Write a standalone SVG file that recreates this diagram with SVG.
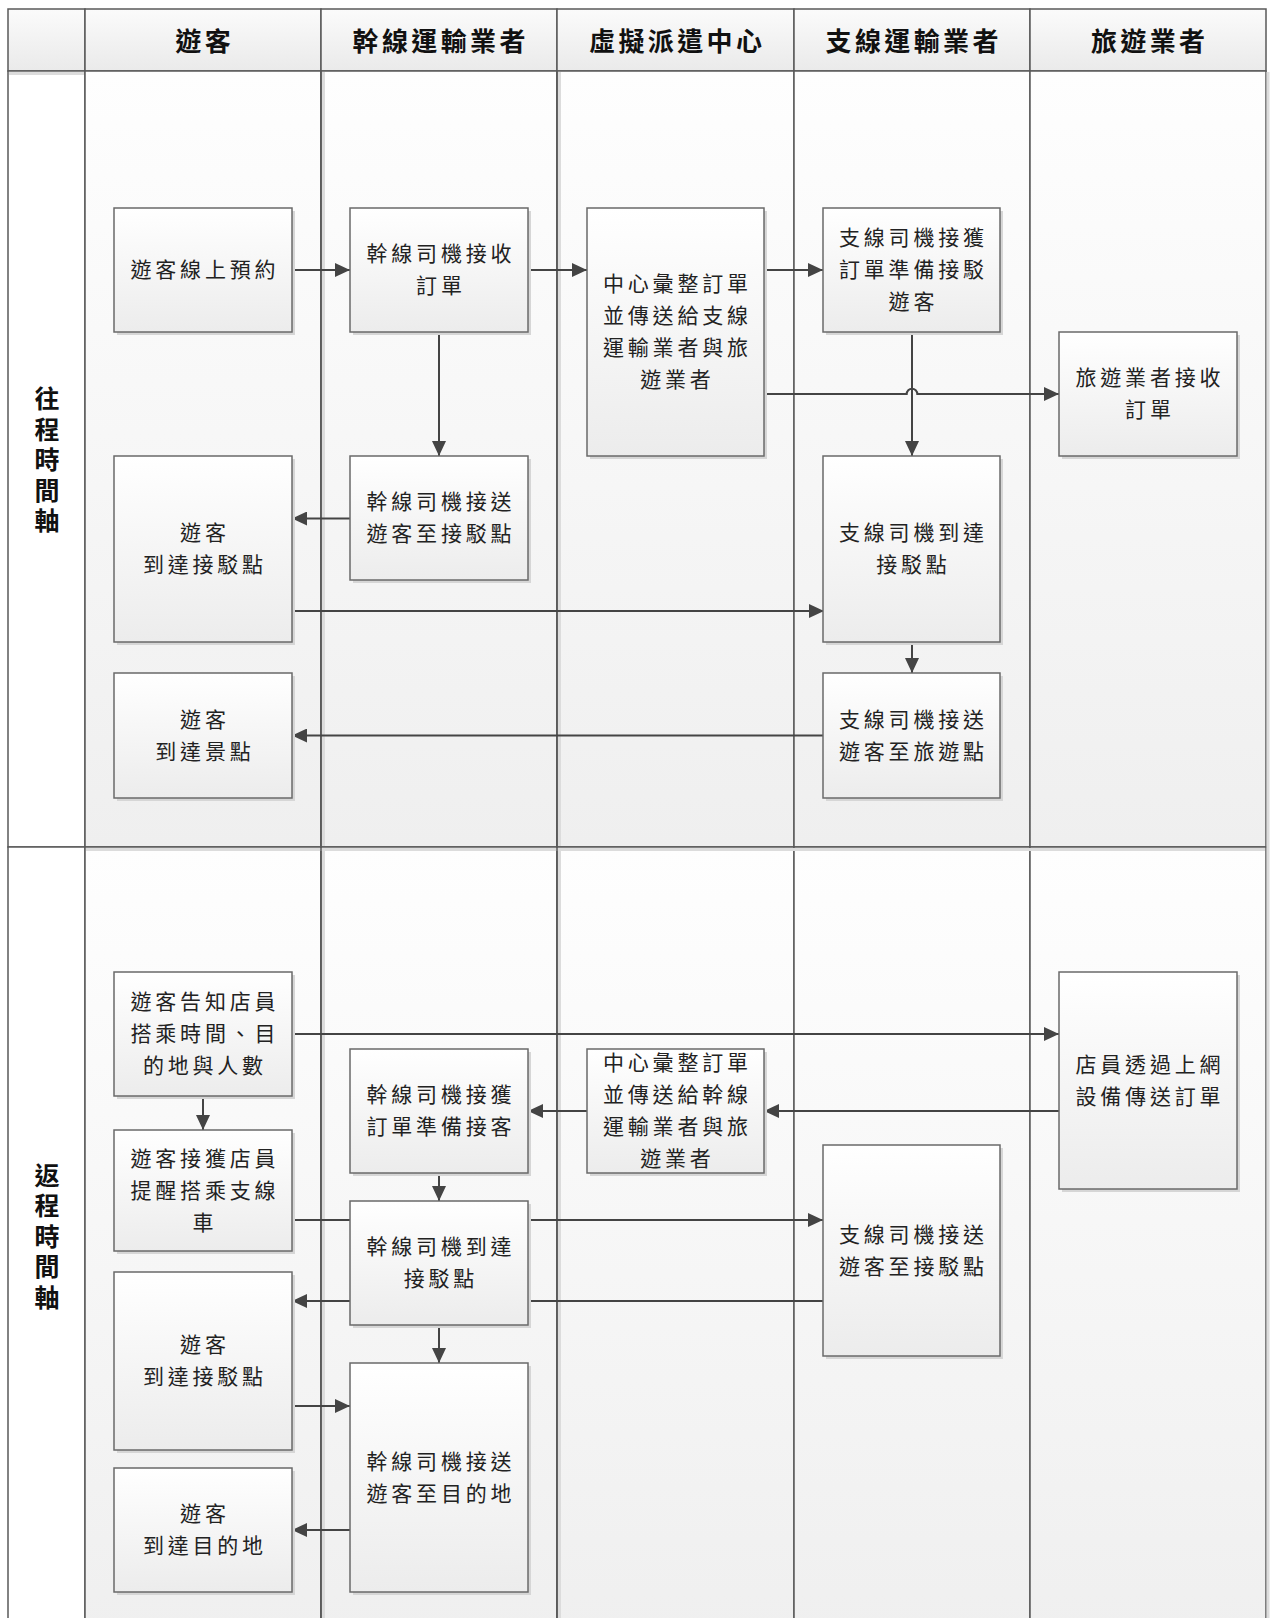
<svg xmlns="http://www.w3.org/2000/svg" width="1270" height="1618" viewBox="0 0 1270 1618">
<style>
.lane{stroke:#595959;stroke-width:1.5}
.hdr{fill:url(#gHdr);stroke:#595959;stroke-width:1.5}
.box{fill:url(#gBox);stroke:#6a6a6a;stroke-width:1.5}
.shd{fill:#d6d6d6}
.lsh{stroke:#dcdcdc;stroke-width:3}
.t{font-family:"Noto Sans CJK TC","Noto Sans CJK SC",sans-serif;font-size:21px;letter-spacing:3.8px;fill:#222;text-anchor:middle}
.h{font-family:"Noto Sans CJK TC","Noto Sans CJK SC",sans-serif;font-size:26px;font-weight:bold;letter-spacing:3.4px;fill:#111;text-anchor:middle}
.v{font-family:"Noto Sans CJK TC","Noto Sans CJK SC",sans-serif;font-size:25px;font-weight:bold;fill:#111;text-anchor:middle;writing-mode:vertical-rl;letter-spacing:5.5px}
.c{fill:none;stroke:#444;stroke-width:2}
.a{marker-end:url(#arr)}
</style>
<defs>
<linearGradient id="gHdr" x1="0" y1="0" x2="0" y2="1"><stop offset="0" stop-color="#fbfbfb"/><stop offset="1" stop-color="#eaeaea"/></linearGradient>
<linearGradient id="gLane" x1="0" y1="0" x2="0" y2="1"><stop offset="0" stop-color="#fefefe"/><stop offset="1" stop-color="#efefef"/></linearGradient>
<linearGradient id="gBox" x1="0" y1="0" x2="0" y2="1"><stop offset="0" stop-color="#ffffff"/><stop offset="1" stop-color="#ececec"/></linearGradient>
<marker id="arr" markerUnits="userSpaceOnUse" markerWidth="15" markerHeight="14" refX="15" refY="7" orient="auto"><path d="M0,0 L15,7 L0,14 z" fill="#444"/></marker>
</defs>
<rect x="0" y="0" width="1270" height="1618" fill="#ffffff"/>
<g id="pool">
<rect class="hdr" x="8" y="9" width="77" height="62"/>
<rect class="hdr" x="85" y="9" width="236" height="62"/>
<rect class="hdr" x="321" y="9" width="236" height="62"/>
<rect class="hdr" x="557" y="9" width="237" height="62"/>
<rect class="hdr" x="794" y="9" width="236" height="62"/>
<rect class="hdr" x="1030" y="9" width="236" height="62"/>
<rect x="8" y="71" width="77" height="776" fill="#ffffff" class="lane"/>
<rect x="85" y="71" width="236" height="776" fill="url(#gLane)" class="lane"/>
<rect x="321" y="71" width="236" height="776" fill="url(#gLane)" class="lane"/>
<rect x="557" y="71" width="237" height="776" fill="url(#gLane)" class="lane"/>
<rect x="794" y="71" width="236" height="776" fill="url(#gLane)" class="lane"/>
<rect x="1030" y="71" width="236" height="776" fill="url(#gLane)" class="lane"/>
<rect x="8" y="847" width="77" height="800" fill="#ffffff" class="lane"/>
<rect x="85" y="847" width="236" height="800" fill="url(#gLane)" class="lane"/>
<rect x="321" y="847" width="236" height="800" fill="url(#gLane)" class="lane"/>
<rect x="557" y="847" width="237" height="800" fill="url(#gLane)" class="lane"/>
<rect x="794" y="847" width="236" height="800" fill="url(#gLane)" class="lane"/>
<rect x="1030" y="847" width="236" height="800" fill="url(#gLane)" class="lane"/>
<line class="lsh" x1="323.5" y1="72" x2="323.5" y2="846"/>
<line class="lsh" x1="559.5" y1="72" x2="559.5" y2="846"/>
<line class="lsh" x1="323.5" y1="848" x2="323.5" y2="1618"/>
<line class="lsh" x1="559.5" y1="848" x2="559.5" y2="1618"/>
<line class="lsh" x1="9" y1="73.5" x2="84" y2="73.5"/>
<line class="lsh" x1="86" y1="849.5" x2="1265" y2="849.5"/>
<line class="lsh" x1="1268" y1="72" x2="1268" y2="1618"/>
<line x1="321" y1="71" x2="321" y2="1618" class="lane"/>
<line x1="557" y1="71" x2="557" y2="1618" class="lane"/>
<text class="h" x="204.7" y="50.5">遊客</text>
<text class="h" x="440.7" y="50.5">幹線運輸業者</text>
<text class="h" x="677.2" y="50.5">虛擬派遣中心</text>
<text class="h" x="913.7" y="50.5">支線運輸業者</text>
<text class="h" x="1149.7" y="50.5">旅遊業者</text>
<text class="v" x="47" y="462.5">往程時間軸</text>
<text class="v" x="47" y="1239">返程時間軸</text>
</g>
<g id="connectors">
<path class="c a" d="M292,270 H350"/>
<path class="c a" d="M528,270 H587"/>
<path class="c a" d="M764,270 H823"/>
<path class="c a" d="M764,394 H906.7 A5.3,5.3 0 0 1 917.3,394 H1059"/>
<path class="c a" d="M912,332 V456"/>
<path class="c a" d="M439,332 V456"/>
<path class="c a" d="M350,518.5 H292"/>
<path class="c a" d="M292,611 H824"/>
<path class="c a" d="M912,642 V673"/>
<path class="c a" d="M823,735.5 H292"/>
<path class="c a" d="M292,1034 H1059"/>
<path class="c a" d="M1059,1111 H764"/>
<path class="c a" d="M587,1111 H528"/>
<path class="c a" d="M203,1096 V1130"/>
<path class="c a" d="M439,1173 V1201"/>
<path class="c a" d="M292,1220 H823"/>
<path class="c a" d="M825,1301 H292"/>
<path class="c a" d="M439,1325 V1363"/>
<path class="c a" d="M292,1406 H350"/>
<path class="c a" d="M350,1530 H292"/>
</g>
<g id="nodes">
<g id="n1"><rect class="shd" x="117" y="211" width="178" height="124"/><rect class="box" x="114" y="208" width="178" height="124"/><text class="t" x="204.9" y="277">遊客線上預約</text></g>
<g id="n2"><rect class="shd" x="353" y="211" width="178" height="124"/><rect class="box" x="350" y="208" width="178" height="124"/><text class="t"><tspan x="440.9" y="261">幹線司機接收</tspan><tspan x="440.9" y="293">訂單</tspan></text></g>
<g id="n3"><rect class="shd" x="590" y="211" width="177" height="248"/><rect class="box" x="587" y="208" width="177" height="248"/><text class="t"><tspan x="677.4" y="291">中心彙整訂單</tspan><tspan x="677.4" y="323">並傳送給支線</tspan><tspan x="677.4" y="355">運輸業者與旅</tspan><tspan x="677.4" y="387">遊業者</tspan></text></g>
<g id="n4"><rect class="shd" x="826" y="211" width="177" height="124"/><rect class="box" x="823" y="208" width="177" height="124"/><text class="t"><tspan x="913.4" y="245">支線司機接獲</tspan><tspan x="913.4" y="277">訂單準備接駁</tspan><tspan x="913.4" y="309">遊客</tspan></text></g>
<g id="n5"><rect class="shd" x="1062" y="335" width="178" height="124"/><rect class="box" x="1059" y="332" width="178" height="124"/><text class="t"><tspan x="1149.9" y="385">旅遊業者接收</tspan><tspan x="1149.9" y="417">訂單</tspan></text></g>
<g id="n6"><rect class="shd" x="353" y="459" width="178" height="124"/><rect class="box" x="350" y="456" width="178" height="124"/><text class="t"><tspan x="440.9" y="509">幹線司機接送</tspan><tspan x="440.9" y="541">遊客至接駁點</tspan></text></g>
<g id="n7"><rect class="shd" x="117" y="459" width="178" height="186"/><rect class="box" x="114" y="456" width="178" height="186"/><text class="t"><tspan x="204.9" y="540">遊客</tspan><tspan x="204.9" y="572">到達接駁點</tspan></text></g>
<g id="n8"><rect class="shd" x="826" y="459" width="177" height="186"/><rect class="box" x="823" y="456" width="177" height="186"/><text class="t"><tspan x="913.4" y="540">支線司機到達</tspan><tspan x="913.4" y="572">接駁點</tspan></text></g>
<g id="n9"><rect class="shd" x="117" y="676" width="178" height="125"/><rect class="box" x="114" y="673" width="178" height="125"/><text class="t"><tspan x="204.9" y="726.5">遊客</tspan><tspan x="204.9" y="758.5">到達景點</tspan></text></g>
<g id="n10"><rect class="shd" x="826" y="676" width="177" height="125"/><rect class="box" x="823" y="673" width="177" height="125"/><text class="t"><tspan x="913.4" y="726.5">支線司機接送</tspan><tspan x="913.4" y="758.5">遊客至旅遊點</tspan></text></g>
<g id="m1"><rect class="shd" x="117" y="975" width="178" height="124"/><rect class="box" x="114" y="972" width="178" height="124"/><text class="t"><tspan x="204.9" y="1009">遊客告知店員</tspan><tspan x="204.9" y="1041">搭乘時間、目</tspan><tspan x="204.9" y="1073">的地與人數</tspan></text></g>
<g id="m2"><rect class="shd" x="1062" y="975" width="178" height="217"/><rect class="box" x="1059" y="972" width="178" height="217"/><text class="t"><tspan x="1149.9" y="1071.5">店員透過上網</tspan><tspan x="1149.9" y="1103.5">設備傳送訂單</tspan></text></g>
<g id="m3"><rect class="shd" x="353" y="1052" width="178" height="124"/><rect class="box" x="350" y="1049" width="178" height="124"/><text class="t"><tspan x="440.9" y="1102">幹線司機接獲</tspan><tspan x="440.9" y="1134">訂單準備接客</tspan></text></g>
<g id="m4"><rect class="shd" x="590" y="1052" width="177" height="124"/><rect class="box" x="587" y="1049" width="177" height="124"/><text class="t"><tspan x="677.4" y="1070">中心彙整訂單</tspan><tspan x="677.4" y="1102">並傳送給幹線</tspan><tspan x="677.4" y="1134">運輸業者與旅</tspan><tspan x="677.4" y="1166">遊業者</tspan></text></g>
<g id="m5"><rect class="shd" x="117" y="1133" width="178" height="121"/><rect class="box" x="114" y="1130" width="178" height="121"/><text class="t"><tspan x="204.9" y="1165.5">遊客接獲店員</tspan><tspan x="204.9" y="1197.5">提醒搭乘支線</tspan><tspan x="204.9" y="1229.5">車</tspan></text></g>
<g id="m6"><rect class="shd" x="353" y="1204" width="178" height="124"/><rect class="box" x="350" y="1201" width="178" height="124"/><text class="t"><tspan x="440.9" y="1254">幹線司機到達</tspan><tspan x="440.9" y="1286">接駁點</tspan></text></g>
<g id="m7"><rect class="shd" x="826" y="1148" width="177" height="211"/><rect class="box" x="823" y="1145" width="177" height="211"/><text class="t"><tspan x="913.4" y="1241.5">支線司機接送</tspan><tspan x="913.4" y="1273.5">遊客至接駁點</tspan></text></g>
<g id="m8"><rect class="shd" x="117" y="1275" width="178" height="178"/><rect class="box" x="114" y="1272" width="178" height="178"/><text class="t"><tspan x="204.9" y="1352">遊客</tspan><tspan x="204.9" y="1384">到達接駁點</tspan></text></g>
<g id="m9"><rect class="shd" x="117" y="1471" width="178" height="124"/><rect class="box" x="114" y="1468" width="178" height="124"/><text class="t"><tspan x="204.9" y="1521">遊客</tspan><tspan x="204.9" y="1553">到達目的地</tspan></text></g>
<g id="m10"><rect class="shd" x="353" y="1366" width="178" height="229"/><rect class="box" x="350" y="1363" width="178" height="229"/><text class="t"><tspan x="440.9" y="1468.5">幹線司機接送</tspan><tspan x="440.9" y="1500.5">遊客至目的地</tspan></text></g>
</g>
</svg>
